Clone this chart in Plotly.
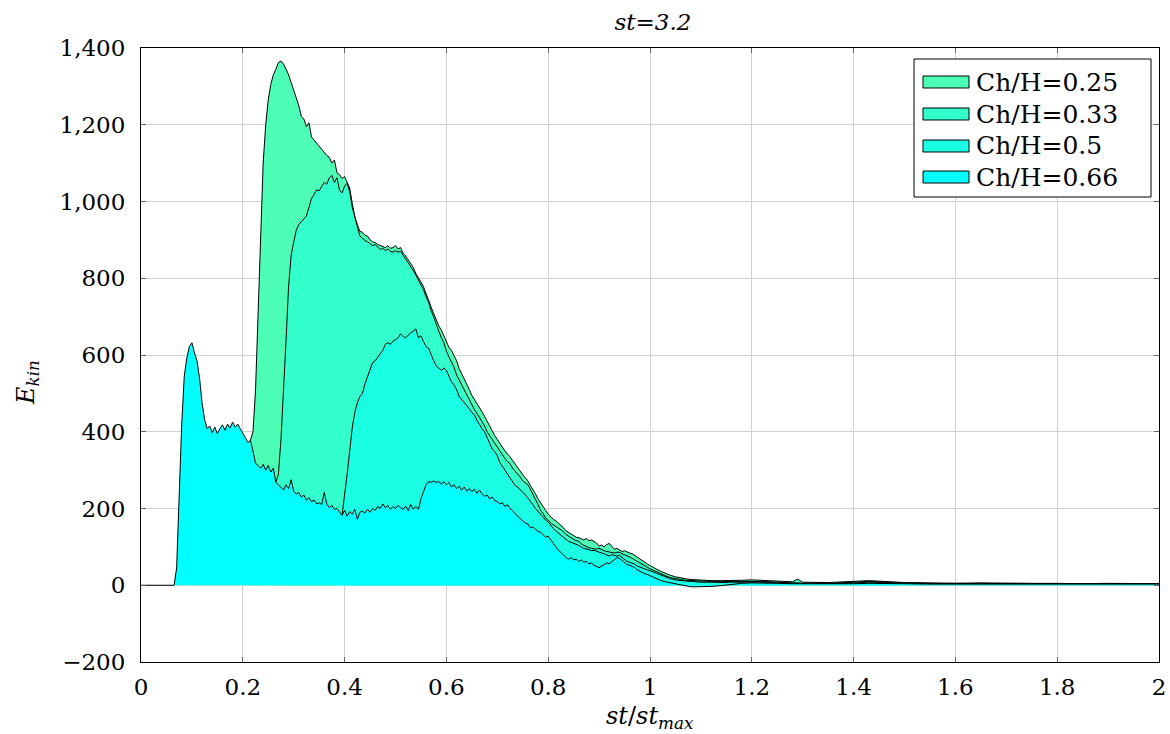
import plotly.graph_objects as go

# ---------------- data ----------------
series_names = ["Ch/H=0.25", "Ch/H=0.33", "Ch/H=0.5", "Ch/H=0.66"]
series_colors = ["#4dffb6", "#33ffcc", "#1affe3", "#00ffff"]

# dense part sampled every 0.005 in st/st_max, up to 1.0
dense_step = 0.005
start_066 = 0.060
start_050 = 0.395
start_033 = 0.265
start_025 = 0.215

st_tail = [1.01, 1.02, 1.03, 1.04, 1.05, 1.06, 1.07, 1.08, 1.09, 1.10,
           1.12, 1.14, 1.16, 1.18, 1.20, 1.22, 1.25, 1.28, 1.29, 1.30,
           1.35, 1.40, 1.43, 1.46, 1.50, 1.55, 1.60, 1.65, 1.70, 1.75,
           1.80, 1.85, 1.90, 1.95, 2.00]

e066_dense = [
    0, 0, 45, 230, 420, 545, 592, 622, 632, 606,
    585, 540, 475, 432, 408, 415, 398, 412, 395, 408,
    418, 404, 420, 410, 425, 412, 420, 408, 398, 385,
    372, 378, 350, 318, 312, 305, 315, 300, 312, 295,
    305, 268, 262, 255, 248, 262, 252, 275, 245, 238,
    242, 230, 235, 222, 228, 218, 222, 212, 215, 210,
    242, 212, 202, 208, 198, 200, 190, 182, 195, 180,
    192, 185, 198, 172, 190, 193, 188, 198, 190, 200,
    195, 205, 200, 212, 202, 208, 198, 205, 200, 208,
    202, 198, 206, 195, 210, 198, 205, 198, 225, 245,
    262, 270, 268, 272, 268, 270, 264, 270, 262, 268,
    256, 262, 252, 258, 248, 256, 245, 252, 244, 250,
    240, 248, 238, 232, 235, 225, 230, 220, 218, 212,
    215, 205, 210, 200, 195, 186, 180, 172, 168, 162,
    160, 150, 152, 145, 140, 138, 132, 125, 128, 118,
    110, 100, 92, 85, 80, 72, 68, 72, 66, 68,
    62, 66, 60, 62, 56, 58, 52, 50, 46, 50,
    55, 58, 56, 62, 68, 72, 70, 64, 58, 54,
    52, 50, 46, 40, 36, 32, 30, 28, 25]
e066_tail = [18, 13, 9, 6, 3, 0, -2, -4, -4, -4,
             -3, -1, 2, 5, 6, 6, 5, 4, 4, 4,
             3, 4, 5, 5, 4, 3, 3, 4, 3, 3,
             3, 3, 4, 3, 3]

e050_dense = [
    182, 230, 290, 350, 410, 450, 475, 492, 500, 525,
    545, 565, 580, 585, 595, 602, 612, 628, 632, 628,
    636, 640, 645, 655, 648, 645, 652, 658, 662, 668,
    645, 650, 635, 622, 618, 600, 585, 572, 565, 560,
    566, 560, 545, 530, 522, 510, 492, 484, 478, 470,
    460, 450, 444, 430, 418, 408, 400, 385, 372, 355,
    348, 338, 320, 310, 300, 292, 283, 272, 260, 256,
    248, 242, 236, 228, 218, 210, 200, 192, 185, 178,
    170, 165, 155, 148, 142, 136, 130, 124, 118, 114,
    112, 110, 108, 104, 100, 96, 95, 92, 90, 91,
    88, 86, 84, 82, 80, 76, 80, 78, 76, 78,
    72, 66, 62, 60, 58, 55, 50, 47, 44, 41,
    40, 38]
e050_tail = [33, 27, 21, 17, 14, 12, 11, 10, 9, 8,
             8, 7, 8, 8, 9, 8, 6, 5, 5, 5,
             4, 6, 8, 7, 5, 4, 4, 5, 4, 4,
             4, 4, 4, 4, 3]

e033_dense = [
    268, 290, 380, 500, 640, 780, 860, 895, 925, 940,
    948, 955, 962, 985, 1008, 1018, 1030, 1028, 1040, 1050,
    1045, 1062, 1068, 1050, 1062, 1030, 1022, 1040, 1048, 1025,
    985, 960, 935, 910, 905, 898, 895, 890, 885, 888,
    880, 875, 878, 872, 876, 870, 868, 872, 868, 870,
    860, 850, 842, 830, 820, 808, 796, 782, 770, 752,
    738, 715, 700, 680, 662, 645, 632, 610, 595, 582,
    568, 548, 535, 522, 508, 495, 480, 468, 458, 448,
    438, 425, 415, 400, 390, 378, 368, 358, 350, 340,
    330, 322, 317, 305, 298, 290, 282, 272, 268, 262,
    250, 238, 225, 210, 195, 187, 175, 170, 162, 158,
    152, 148, 145, 140, 132, 128, 122, 118, 116, 115,
    108, 104, 100, 98, 96, 95, 94, 96, 92, 90,
    88, 87, 86, 84, 86, 86, 82, 80, 76, 74,
    70, 66, 62, 58, 54, 50, 46, 43]
e033_tail = [37, 30, 25, 20, 17, 15, 13, 12, 11, 11,
             10, 10, 10, 11, 11, 10, 8, 6, 6, 5,
             5, 8, 10, 8, 6, 5, 5, 5, 5, 4,
             4, 4, 4, 4, 3]

e025_dense = [
    378, 400, 508, 720, 920, 1100, 1200, 1265, 1305, 1330,
    1345, 1362, 1366, 1358, 1345, 1330, 1310, 1290, 1272, 1250,
    1222, 1215, 1195, 1205, 1168, 1160, 1152, 1145, 1138, 1128,
    1120, 1115, 1100, 1108, 1075, 1070, 1060, 1065, 1050, 1035,
    995, 962, 940, 922, 920, 912, 910, 900, 895, 893,
    888, 886, 884, 880, 885, 878, 880, 885, 876, 880,
    865, 858, 848, 838, 828, 812, 802, 790, 778, 762,
    745, 725, 708, 690, 676, 665, 650, 635, 620, 612,
    600, 585, 565, 552, 540, 525, 510, 495, 485, 474,
    465, 452, 440, 428, 415, 400, 390, 380, 370, 358,
    350, 342, 335, 325, 315, 305, 296, 288, 280, 272,
    260, 250, 238, 225, 214, 204, 195, 185, 178, 172,
    168, 162, 158, 150, 142, 138, 132, 128, 125, 124,
    120, 118, 122, 116, 118, 114, 110, 102, 105, 100,
    106, 109, 100, 94, 96, 92, 88, 90, 86, 84,
    82, 78, 72, 68, 64, 60, 55, 52]
e025_tail = [44, 37, 31, 26, 22, 19, 17, 15, 14, 13,
             12, 12, 12, 13, 14, 13, 11, 9, 16, 8,
             7, 10, 12, 10, 7, 6, 5, 6, 5, 5,
             5, 4, 5, 4, 4]

x_tick_vals = [0, 0.2, 0.4, 0.6, 0.8, 1, 1.2, 1.4, 1.6, 1.8, 2]
x_tick_text = ["0", "0.2", "0.4", "0.6", "0.8", "1", "1.2", "1.4", "1.6", "1.8", "2"]
y_tick_vals = [-200, 0, 200, 400, 600, 800, 1000, 1200, 1400]
y_tick_text = ["\u2212200", "0", "200", "400", "600", "800", "1,000", "1,200", "1,400"]


def dense_x(start, n):
    return [round(start + dense_step * i, 3) for i in range(n)]


x066 = [0.0] + dense_x(start_066, len(e066_dense)) + st_tail
y066 = [0] + e066_dense + e066_tail
x050 = dense_x(start_050, len(e050_dense)) + st_tail
y050 = e050_dense + e050_tail
x033 = dense_x(start_033, len(e033_dense)) + st_tail
y033 = e033_dense + e033_tail
x025 = dense_x(start_025, len(e025_dense)) + st_tail
y025 = e025_dense + e025_tail

xs = [x025, x033, x050, x066]
ys = [y025, y033, y050, y066]

# ---------------- figure ----------------
W, H = 1170, 734
ML, MR, MT, MB = 141, 11, 48, 72
PW, PH = W - ML - MR, H - MT - MB
FONT = "DejaVu Serif"


def px_x(p):
    return (p - ML) / PW


def px_y(p):
    return (H - MB - p) / PH


fig = go.Figure()
for name, col, x, y in zip(series_names, series_colors, xs, ys):
    fig.add_trace(go.Scatter(
        x=x, y=y, name=name, mode="lines", fill="tozeroy",
        fillcolor=col, line=dict(color="black", width=1),
        showlegend=False, hoverinfo="skip"))

axis_common = dict(
    showgrid=True, gridcolor="#d2d2d2", gridwidth=1,
    zeroline=False, showline=True, linecolor="black", linewidth=1,
    mirror="ticks", ticks="inside", ticklen=5, tickcolor="#666666",
    tickfont=dict(family=FONT, size=23, color="black"),
)

fig.update_xaxes(range=[0, 2], tickvals=x_tick_vals, ticktext=x_tick_text,
                 ticklabelstandoff=4, **axis_common)
fig.update_yaxes(range=[-200, 1400], tickvals=y_tick_vals, ticktext=y_tick_text,
                 ticklabelstandoff=10, **axis_common)

shapes = []
annotations = []

# legend box
shapes.append(dict(type="rect", xref="paper", yref="paper",
                   x0=px_x(914), x1=px_x(1151), y0=px_y(197), y1=px_y(59),
                   fillcolor="white", line=dict(color="black", width=1), layer="above"))
row_centers = [82, 114, 146, 177]
for name, col, rc in zip(series_names, series_colors, row_centers):
    shapes.append(dict(type="rect", xref="paper", yref="paper",
                       x0=px_x(923), x1=px_x(969), y0=px_y(rc + 6), y1=px_y(rc - 6),
                       fillcolor=col, line=dict(color="black", width=1), layer="above"))
    annotations.append(dict(text=name, xref="paper", yref="paper",
                            x=px_x(974), y=px_y(rc), xanchor="left", yanchor="middle",
                            showarrow=False,
                            font=dict(family=FONT, size=25, color="black")))

# axis titles
annotations.append(dict(text="<i>st</i>/<i>st</i><sub><i>max</i></sub>",
                        xref="paper", yref="paper", x=0.5, y=px_y(717),
                        xanchor="center", yanchor="middle", showarrow=False,
                        font=dict(family=FONT, size=24, color="black")))
annotations.append(dict(text="<i>E</i><sub><i>kin</i></sub>",
                        xref="paper", yref="paper", x=px_x(27), y=px_y(383),
                        xanchor="center", yanchor="middle", showarrow=False,
                        textangle=-90,
                        font=dict(family=FONT, size=24, color="black")))

fig.update_layout(
    width=W, height=H,
    margin=dict(l=ML, r=MR, t=MT, b=MB, autoexpand=False),
    paper_bgcolor="white", plot_bgcolor="white",
    font=dict(family=FONT, size=23, color="black"),
    title=dict(text="<i>st=3.2</i>", x=653 / W, xref="container",
               y=1 - 22 / H, yref="container", xanchor="center", yanchor="middle",
               font=dict(family=FONT, size=23, color="black")),
    shapes=shapes, annotations=annotations,
    showlegend=False,
)

fig.write_html("out.html",
               config={"displayModeBar": False, "staticPlot": True},
               post_script="document.body.style.margin='0px';document.body.style.overflow='hidden';")
